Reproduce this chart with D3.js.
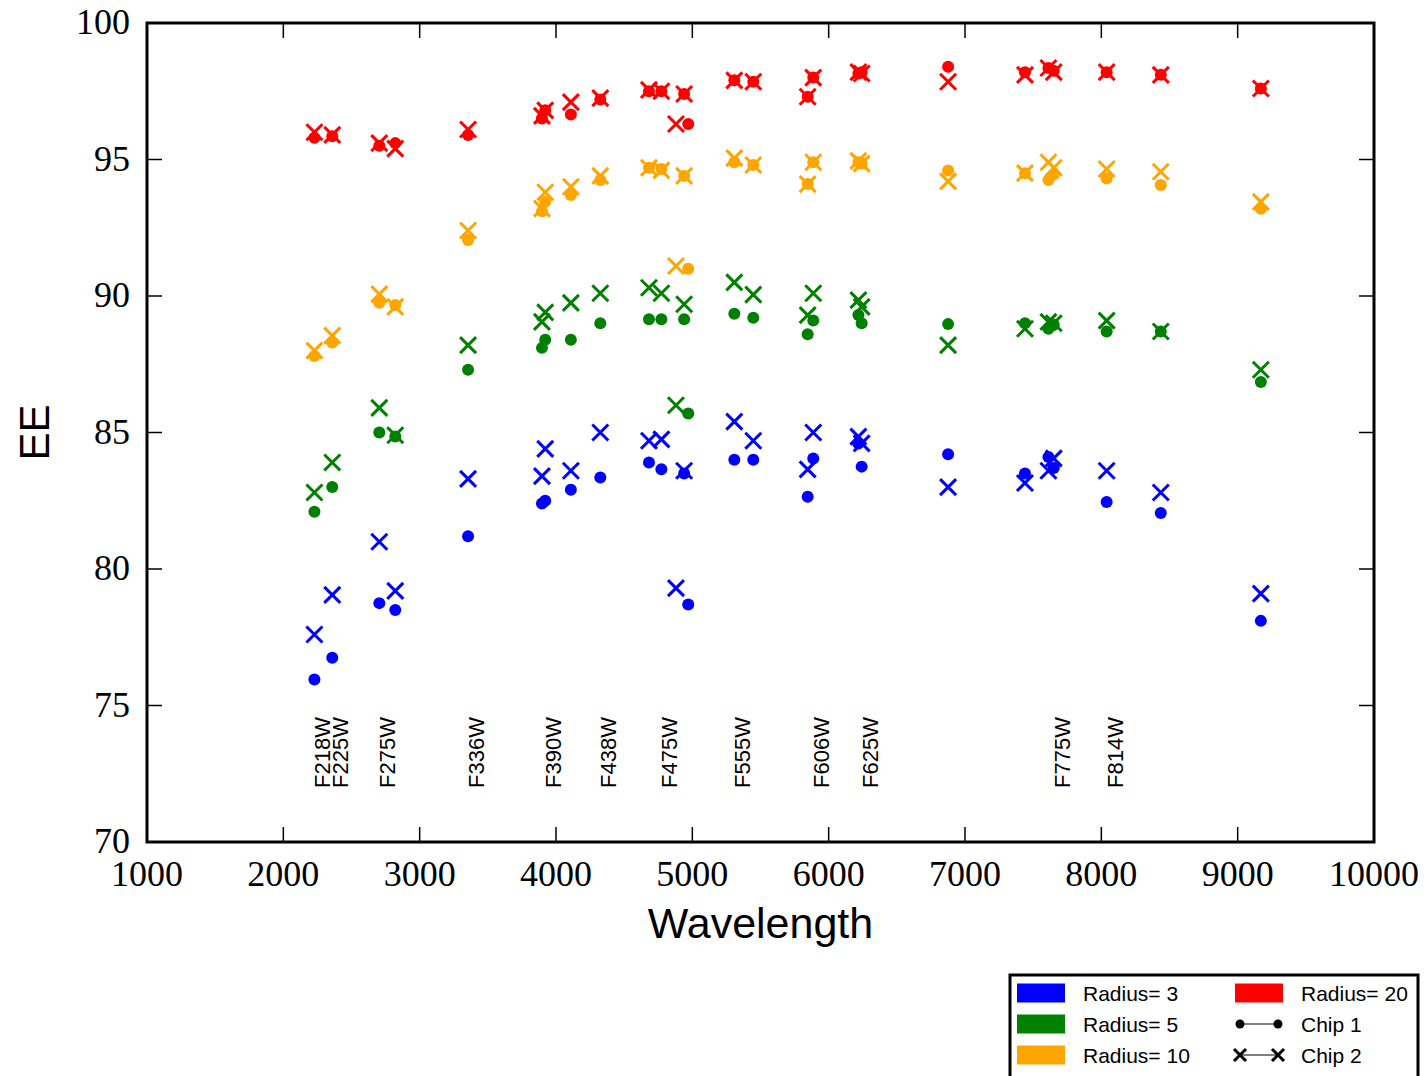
<!DOCTYPE html>
<html>
<head>
<meta charset="utf-8">
<script src="https://cdn.jsdelivr.net/npm/d3@7"></script>
<style>
  html, body { margin: 0; padding: 0; background: #fff; }
  svg { display: block; }
</style>
</head>
<body>
<svg id="chart" width="1428" height="1076"></svg>
<script>
// ── Data ──────────────────────────────────────────────────────────────────────

// Wavelength (Å) of each filter, chip 1 and chip 2 (one pair is offset)
const waveChip1 = [2228, 2359, 2704, 2821, 3355, 3897, 3921, 4109, 4325, 4682, 4773, 4940, 4970,
                   5308, 5447, 5846, 5887, 6218, 6242, 6876, 7440, 7612, 7651, 8039, 8436, 9170];
const waveChip2 = [2228, 2359, 2704, 2821, 3355, 3897, 3921, 4109, 4325, 4682, 4773, 4940, 4880,
                   5308, 5447, 5846, 5887, 6218, 6242, 6876, 7440, 7612, 7651, 8039, 8436, 9170];

// Encircled energy (%) per aperture radius
const r3Chip1  = [75.95, 76.75, 78.75, 78.5, 81.2, 82.4, 82.5, 82.9, 83.35, 83.9, 83.65, 83.5, 78.7,
                  84.0, 84.0, 82.65, 84.05, 84.6, 83.75, 84.2, 83.5, 84.1, 83.7, 82.45, 82.05, 78.1];
const r3Chip2  = [77.6, 79.05, 81.0, 79.2, 83.3, 83.4, 84.4, 83.6, 85.0, 84.7, 84.75, 83.6, 79.3,
                  85.4, 84.7, 83.65, 85.0, 84.85, 84.6, 83.0, 83.15, 83.6, 84.05, 83.6, 82.8, 79.1];
const r5Chip1  = [82.1, 83.0, 85.0, 84.85, 87.3, 88.1, 88.4, 88.4, 89.0, 89.15, 89.15, 89.15, 85.7,
                  89.35, 89.2, 88.6, 89.1, 89.3, 89.0, 88.97, 89.0, 88.8, 88.95, 88.7, 88.7, 86.85];
const r5Chip2  = [82.8, 83.9, 85.9, 84.9, 88.2, 89.05, 89.4, 89.75, 90.1, 90.3, 90.1, 89.7, 86.0,
                  90.5, 90.05, 89.3, 90.1, 89.85, 89.6, 88.2, 88.8, 89.05, 89.0, 89.1, 88.7, 87.3];
const r10Chip1 = [87.8, 88.3, 89.75, 89.67, 92.05, 93.1, 93.45, 93.7, 94.25, 94.7, 94.65, 94.4, 91.0,
                  94.9, 94.8, 94.1, 94.9, 94.9, 94.85, 94.6, 94.5, 94.25, 94.45, 94.3, 94.07, 93.2];
const r10Chip2 = [88.0, 88.55, 90.07, 89.6, 92.4, 93.2, 93.8, 94.0, 94.4, 94.7, 94.6, 94.4, 91.1,
                  95.05, 94.8, 94.1, 94.9, 94.95, 94.85, 94.2, 94.5, 94.9, 94.7, 94.65, 94.55, 93.45];
const r20Chip1 = [95.8, 95.85, 95.5, 95.6, 95.9, 96.5, 96.8, 96.65, 97.2, 97.5, 97.5, 97.4, 96.3,
                  97.9, 97.85, 97.3, 98.0, 98.15, 98.2, 98.4, 98.2, 98.35, 98.25, 98.2, 98.1, 97.6];
const r20Chip2 = [96.0, 95.9, 95.6, 95.4, 96.1, 96.6, 96.8, 97.1, 97.25, 97.55, 97.5, 97.4, 96.3,
                  97.9, 97.85, 97.3, 98.0, 98.2, 98.15, 97.85, 98.1, 98.35, 98.2, 98.2, 98.1, 97.6];

const radii  = [3, 5, 10, 20];
const colors = ['#0000ff', '#008000', '#ffa500', '#ff0000'];

// Filter name annotations
const filterNames = ['F218W', 'F225W', 'F275W', 'F336W', 'F390W', 'F438W', 'F475W',
                     'F555W', 'F606W', 'F625W', 'F775W', 'F814W'];
const filterWaves = [2228, 2359, 2704, 3355, 3921, 4325, 4773, 5308, 5887, 6242, 7651, 8039];

const xTickValues = [1000, 2000, 3000, 4000, 5000, 6000, 7000, 8000, 9000, 10000];
const yTickValues = [70, 75, 80, 85, 90, 95, 100];

// ── Layout ────────────────────────────────────────────────────────────────────

const W = 1428, H = 1076;
const M = { left: 147, right: 54, top: 23, bottom: 234 };
const PW = W - M.left - M.right;
const PH = H - M.top - M.bottom;

const svg = d3.select('#chart');
const g = svg.append('g').attr('transform', `translate(${M.left},${M.top})`);

const x = d3.scaleLinear().domain([1000, 10000]).range([0, PW]);
const y = d3.scaleLinear().domain([70, 100]).range([PH, 0]);

const serif = '"Liberation Serif", "DejaVu Serif", serif';
const sans  = '"Liberation Sans", Arial, sans-serif';

// ── Ticks (inward, all four sides) ────────────────────────────────────────────

const TL = 15;
const tickG = g.append('g').attr('stroke', '#000').attr('stroke-width', 1.5);
xTickValues.forEach(v => {
  tickG.append('line').attr('x1', x(v)).attr('x2', x(v)).attr('y1', PH).attr('y2', PH - TL);
  tickG.append('line').attr('x1', x(v)).attr('x2', x(v)).attr('y1', 0).attr('y2', TL);
});
yTickValues.forEach(v => {
  tickG.append('line').attr('x1', 0).attr('x2', TL).attr('y1', y(v)).attr('y2', y(v));
  tickG.append('line').attr('x1', PW).attr('x2', PW - TL).attr('y1', y(v)).attr('y2', y(v));
});

g.selectAll('.xlab')
  .data(xTickValues)
  .enter().append('text')
    .attr('x', d => x(d))
    .attr('y', PH + 44)
    .attr('text-anchor', 'middle')
    .attr('font-family', serif)
    .attr('font-size', 36)
    .text(d => d);

g.selectAll('.ylab')
  .data(yTickValues)
  .enter().append('text')
    .attr('x', -17)
    .attr('y', d => y(d) + 11)
    .attr('text-anchor', 'end')
    .attr('font-family', serif)
    .attr('font-size', 36)
    .text(d => d);

// ── Filter labels ─────────────────────────────────────────────────────────────

g.selectAll('.flab')
  .data(filterNames)
  .enter().append('text')
    .attr('transform', (d, i) => `translate(${x(filterWaves[i]) + 16},${PH - 54}) rotate(-90)`)
    .attr('font-family', sans)
    .attr('font-size', 22)
    .text(d => d);

// ── Markers ───────────────────────────────────────────────────────────────────

const chip1Series = [r3Chip1, r5Chip1, r10Chip1, r20Chip1];
const chip2Series = [r3Chip2, r5Chip2, r10Chip2, r20Chip2];
const XS = 8;
const xPath = `M${-XS},${-XS}L${XS},${XS}M${-XS},${XS}L${XS},${-XS}`;

radii.forEach((r, k) => {
  g.append('g').selectAll('circle')
    .data(chip1Series[k])
    .enter().append('circle')
      .attr('cx', (d, i) => x(waveChip1[i]))
      .attr('cy', d => y(d))
      .attr('r', 6)
      .attr('fill', colors[k]);

  g.append('g').selectAll('path')
    .data(chip2Series[k])
    .enter().append('path')
      .attr('transform', (d, i) => `translate(${x(waveChip2[i])},${y(d)})`)
      .attr('d', xPath)
      .attr('stroke', colors[k])
      .attr('stroke-width', 3)
      .attr('fill', 'none');
});

// ── Frame ─────────────────────────────────────────────────────────────────────

g.append('rect')
  .attr('width', PW).attr('height', PH)
  .attr('fill', 'none')
  .attr('stroke', '#000')
  .attr('stroke-width', 3);

// ── Axis titles ───────────────────────────────────────────────────────────────

svg.append('text')
  .attr('x', M.left + PW / 2)
  .attr('y', 938)
  .attr('text-anchor', 'middle')
  .attr('font-family', sans)
  .attr('font-size', 43)
  .text('Wavelength');

svg.append('text')
  .attr('transform', `translate(49,${M.top + PH / 2}) rotate(-90)`)
  .attr('text-anchor', 'middle')
  .attr('font-family', sans)
  .attr('font-size', 42)
  .text('EE');

// ── Legend ────────────────────────────────────────────────────────────────────

const leg = svg.append('g').attr('transform', 'translate(1010,975)');
leg.append('rect')
  .attr('width', 408).attr('height', 130)
  .attr('fill', '#fff')
  .attr('stroke', '#000')
  .attr('stroke-width', 3);

const rowY = [18, 49, 80];
const legItems = [
  { col: 0, row: 0, kind: 'patch', color: colors[0], label: 'Radius= 3' },
  { col: 0, row: 1, kind: 'patch', color: colors[1], label: 'Radius= 5' },
  { col: 0, row: 2, kind: 'patch', color: colors[2], label: 'Radius= 10' },
  { col: 1, row: 0, kind: 'patch', color: colors[3], label: 'Radius= 20' },
  { col: 1, row: 1, kind: 'dot',   color: '#000',    label: 'Chip 1' },
  { col: 1, row: 2, kind: 'cross', color: '#000',    label: 'Chip 2' }
];
const colX = [7, 225];

legItems.forEach(it => {
  const gx = colX[it.col], gy = rowY[it.row];
  const li = leg.append('g').attr('transform', `translate(${gx},${gy})`);
  if (it.kind === 'patch') {
    li.append('rect').attr('x', 0).attr('y', -9.5).attr('width', 48).attr('height', 19).attr('fill', it.color);
  } else {
    li.append('line').attr('x1', 5).attr('x2', 43).attr('y1', 0).attr('y2', 0)
      .attr('stroke', '#000').attr('stroke-width', 1.2);
    [5, 43].forEach(px => {
      if (it.kind === 'dot') {
        li.append('circle').attr('cx', px).attr('cy', 0).attr('r', 4.5).attr('fill', '#000');
      } else {
        li.append('path').attr('transform', `translate(${px},0)`)
          .attr('d', 'M-6,-6L6,6M-6,6L6,-6')
          .attr('stroke', '#000').attr('stroke-width', 3).attr('fill', 'none');
      }
    });
  }
  li.append('text')
    .attr('x', 66).attr('y', 8)
    .attr('font-family', sans)
    .attr('font-size', 21)
    .text(it.label);
});
</script>
</body>
</html>
